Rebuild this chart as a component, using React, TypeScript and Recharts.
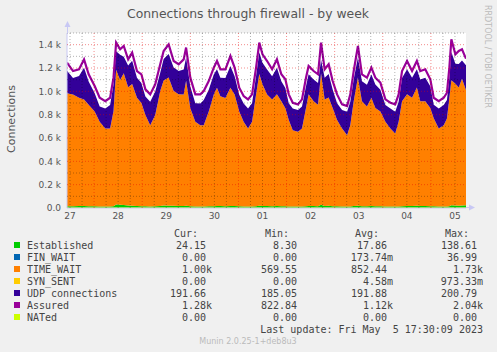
import {
  ComposedChart,
  Area,
  Line,
  XAxis,
  YAxis,
  CartesianGrid,
  ReferenceLine,
} from "recharts";

// hours since Apr 27 00:00
const hours = [
  10.5, 13.5, 16.5, 19, 21.3, 24.3, 26.8, 29.6, 32, 33.7,
  35, 37, 38.8, 41, 43, 45.4, 47.6, 49.6, 52, 54.5,
  57, 58.7, 61.2, 63.7, 66.2, 68.7, 69.9, 72, 74.5, 77,
  78.7, 81.2, 83.7, 85.3, 87, 89.5, 92, 94.1, 96.4, 98.6,
  100.8, 102.8, 104.8, 106.4, 108, 110.3, 112.8, 115.2, 117.4, 119.4,
  121.1, 123.1, 125.7, 127.7, 129.7, 131, 133.5, 135.7, 137.2, 139,
  141, 143, 145.2, 147.7, 150.2, 151.8, 153.5, 155.6, 157.6, 160.1,
  162.3, 164.3, 166.8, 169.3, 171.8, 174.2, 175.9, 177.6, 180.1, 182.6,
  185, 186.7, 189.2, 191.7, 193.4, 195.9, 198.4, 200, 201.2, 202.2,
  204.2, 205.9, 207.5, 209.5,
];

const established = [
  14, 16, 18, 17, 15, 14, 13, 12, 13, 16,
  30, 28, 26, 22, 20, 18, 16, 14, 12, 14,
  18, 22, 20, 19, 18, 17, 20, 15, 13, 12,
  12, 14, 16, 18, 17, 16, 18, 17, 14, 12,
  12, 13, 16, 20, 18, 17, 16, 18, 16, 15,
  13, 12, 12, 13, 16, 18, 17, 16, 28, 18,
  20, 16, 14, 12, 12, 13, 18, 20, 16, 15,
  17, 16, 15, 13, 12, 12, 13, 16, 18, 17,
  19, 17, 18, 16, 14, 12, 12, 13, 16, 24,
  22, 20, 22, 24,
];

const timeWait = [
  970, 956, 927, 913, 870, 813, 727, 669, 669, 813,
  1156, 1070, 1128, 1013, 1042, 927, 884, 784, 698, 784,
  984, 1070, 1099, 984, 956, 956, 1070, 841, 727, 698,
  698, 813, 956, 1013, 941, 927, 1013, 956, 813, 727,
  669, 727, 956, 1128, 1042, 956, 913, 956, 898, 841,
  741, 655, 641, 669, 841, 956, 898, 870, 1128, 913,
  927, 841, 741, 669, 612, 698, 898, 1099, 898, 856,
  927, 841, 813, 727, 669, 626, 727, 898, 956, 927,
  1013, 898, 898, 841, 755, 669, 698, 755, 927, 1070,
  1042, 1013, 1085, 986,
];

const udpConnections = [
  192, 143, 186, 272, 200, 157, 129, 172, 201, 229,
  158, 215, 143, 186, 200, 172, 172, 157, 200, 200,
  158, 186, 200, 201, 200, 215, 201, 186, 157, 186,
  215, 186, 172, 158, 158, 172, 186, 157, 143, 157,
  172, 157, 157, 186, 186, 215, 200, 229, 172, 172,
  143, 186, 186, 187, 186, 172, 187, 186, 114, 186,
  201, 158, 143, 158, 201, 200, 187, 172, 172, 186,
  201, 201, 186, 143, 172, 187, 171, 201, 215, 172,
  158, 187, 201, 186, 115, 172, 172, 158, 172, 244,
  172, 201, 157, 213,
];

const assured = [
  1246, 1174, 1189, 1274, 1146, 1045, 945, 916, 945, 1117,
  1418, 1360, 1389, 1274, 1332, 1174, 1146, 1017, 974, 1060,
  1232, 1346, 1403, 1260, 1232, 1274, 1375, 1117, 974, 974,
  1002, 1088, 1203, 1260, 1189, 1189, 1303, 1203, 1031, 959,
  931, 974, 1203, 1418, 1317, 1260, 1189, 1274, 1146, 1103,
  974, 902, 888, 931, 1117, 1217, 1174, 1146, 1418, 1189,
  1232, 1088, 974, 888, 874, 974, 1174, 1389, 1146, 1117,
  1203, 1117, 1074, 931, 902, 888, 974, 1174, 1260, 1174,
  1260, 1174, 1189, 1103, 945, 916, 945, 988, 1203, 1446,
  1317, 1346, 1360, 1280,
];

const dayTicks = [12, 36, 60, 84, 108, 132, 156, 180, 204];
const dayLabels = ["27", "28", "29", "30", "01", "02", "03", "04", "05"];
const midnightHours = [24, 48, 72, 96, 120, 144, 168, 192];
const sixHourLines = [
  12, 18, 30, 36, 42, 54, 60, 66, 78, 84, 90, 102, 108, 114,
  126, 132, 138, 150, 156, 162, 174, 180, 186, 198, 204,
];

const yTicks = [0, 200, 400, 600, 800, 1000, 1200, 1400];
const yTickLabels = ["0.0", "0.2 k", "0.4 k", "0.6 k", "0.8 k", "1.0 k", "1.2 k", "1.4 k"];
const yMinorLines = [100, 300, 500, 700, 900, 1100, 1300, 1500];
const yMajorLines = [200, 400, 600, 800, 1000, 1200, 1400];

const legendNames = ["Established", "FIN_WAIT", "TIME_WAIT", "SYN_SENT", "UDP connections", "Assured", "NATed"];
const legendColors = ["#00cc00", "#0066b3", "#ff8000", "#ffcc00", "#330099", "#990099", "#ccff00"];
const curValues = ["24.15", "0.00", "1.00k", "0.00", "191.66", "1.28k", "0.00"];
const minValues = ["8.30", "0.00", "569.55", "0.00", "185.05", "822.84", "0.00"];
const avgValues = ["17.86", "173.74m", "852.44", "4.58m", "191.88", "1.12k", "0.00"];
const maxValues = ["138.61", "36.99", "1.73k", "973.33m", "200.79", "2.04k", "0.00"];

const data = hours.map((h, i) => ({
  h,
  est: established[i],
  tw: timeWait[i],
  udp: udpConnections[i],
  assured: assured[i],
  nated: 0,
}));

const mono = "'DejaVu Sans Mono', monospace";
const sans = "'DejaVu Sans', sans-serif";
const axisColor = "#c8c8f4";
const minorGrid = "rgba(0,0,0,0.3)";
const majorGrid = "rgba(230,0,0,0.45)";

function valueEnd(col: number, v: string) {
  return /[a-z]$/.test(v) ? col + 6 : col;
}

export default function App() {
  const columns = [
    { head: "Cur:", end: 206, vals: curValues },
    { head: "Min:", end: 297, vals: minValues },
    { head: "Avg:", end: 387, vals: avgValues },
    { head: "Max:", end: 477, vals: maxValues },
  ];

  return (
    <div
      style={{
        position: "absolute",
        left: 0,
        top: 0,
        width: 497,
        height: 352,
        background: "#f0f0f0",
        overflow: "hidden",
      }}
    >
      <ComposedChart
        width={497}
        height={352}
        data={data}
        margin={{ top: 33, right: 31, bottom: 124, left: 7 }}
      >
        <CartesianGrid horizontal={false} vertical={false} fill="#ffffff" fillOpacity={1} />
        <XAxis
          dataKey="h"
          type="number"
          domain={[10.5, 209.5]}
          ticks={dayTicks}
          tickFormatter={(v) => dayLabels[dayTicks.indexOf(v)]}
          height={20}
          tickLine={false}
          tickSize={3}
          tickMargin={2}
          axisLine={{ stroke: axisColor }}
          tick={{ fill: "#555", fontSize: 9, fontFamily: sans }}
          allowDataOverflow
        />
        <YAxis
          type="number"
          domain={[0, 1500]}
          ticks={yTicks}
          tickFormatter={(v) => yTickLabels[yTicks.indexOf(v)]}
          width={60}
          tickLine={false}
          tickSize={4}
          tickMargin={2}
          axisLine={{ stroke: axisColor }}
          tick={{ fill: "#555", fontSize: 9, fontFamily: sans }}
          allowDataOverflow
        />
        <Area type="linear" dataKey="est" stackId="s" fill="#00cc00" fillOpacity={1} stroke="none" isAnimationActive={false} dot={false} activeDot={false} />
        <Area type="linear" dataKey="tw" stackId="s" fill="#ff8000" fillOpacity={1} stroke="none" isAnimationActive={false} dot={false} activeDot={false} />
        <Area type="linear" dataKey="udp" stackId="s" fill="#330099" fillOpacity={1} stroke="none" isAnimationActive={false} dot={false} activeDot={false} />
        <Line type="linear" dataKey="assured" stroke="#990099" strokeWidth={2.2} dot={false} activeDot={false} isAnimationActive={false} />
        <Line type="linear" dataKey="nated" stroke="#ccff00" strokeWidth={1} dot={false} activeDot={false} isAnimationActive={false} />
        {yMinorLines.map((v) => (
          <ReferenceLine key={"ym" + v} y={v} stroke={minorGrid} strokeDasharray="1 2" zIndex={1500} />
        ))}
        {yMajorLines.map((v) => (
          <ReferenceLine key={"yM" + v} y={v} stroke={majorGrid} strokeDasharray="1 2" zIndex={1500} />
        ))}
        {sixHourLines.map((v) => (
          <ReferenceLine key={"xm" + v} x={v} stroke={minorGrid} strokeDasharray="1 2" zIndex={1500} />
        ))}
        {midnightHours.map((v) => (
          <ReferenceLine key={"xM" + v} x={v} stroke={majorGrid} strokeDasharray="1 2" zIndex={1500} />
        ))}
      </ComposedChart>

      <svg
        width={497}
        height={352}
        style={{ position: "absolute", left: 0, top: 0, pointerEvents: "none" }}
      >
        {/* axis extensions and arrows */}
        <line x1={67.5} y1={33} x2={67.5} y2={26} stroke={axisColor} />
        <polygon points="64.5,27 70.5,27 67.5,21" fill={axisColor} />
        <line x1={466} y1={207.5} x2={470} y2={207.5} stroke={axisColor} />
        <polygon points="469,204.5 469,210.5 475,207.5" fill={axisColor} />

        <text x={248} y={17.5} textAnchor="middle" fontFamily={sans} fontSize={12.4} fill="#555">
          Connections through firewall - by week
        </text>
        <text
          transform="translate(15,119) rotate(-90)"
          textAnchor="middle"
          fontFamily={sans}
          fontSize={11}
          fill="#555"
        >
          Connections
        </text>
        <text
          transform="translate(485,5) rotate(90)"
          fontFamily={sans}
          fontSize={8}
          fill="#bbb"
        >
          RRDTOOL / TOBI OETIKER
        </text>

        {columns.map((c) => (
          <text key={c.head} x={c.end - 8} y={237} textAnchor="end" fontFamily={mono} fontSize={10} fill="#444">
            {c.head}
          </text>
        ))}
        {legendNames.map((name, i) => {
          const base = 249 + i * 12;
          return (
            <g key={name}>
              <rect x={14} y={base - 7} width={6} height={6} fill={legendColors[i]} />
              <text x={27} y={base} fontFamily={mono} fontSize={10} fill="#444">
                {name}
              </text>
              {columns.map((c) => (
                <text
                  key={c.head}
                  x={valueEnd(c.end, c.vals[i])}
                  y={base}
                  textAnchor="end"
                  fontFamily={mono}
                  fontSize={10}
                  fill="#444"
                >
                  {c.vals[i]}
                </text>
              ))}
            </g>
          );
        })}
        <text
          x={483}
          y={333}
          textAnchor="end"
          fontFamily={mono}
          fontSize={10}
          fill="#444"
          xmlSpace="preserve"
          style={{ whiteSpace: "pre" }}
        >
          {"Last update: Fri May  5 17:30:09 2023"}
        </text>
        <text x={248} y={344} textAnchor="middle" fontFamily={sans} fontSize={8} fill="#bbb">
          Munin 2.0.25-1+deb8u3
        </text>
      </svg>
    </div>
  );
}
